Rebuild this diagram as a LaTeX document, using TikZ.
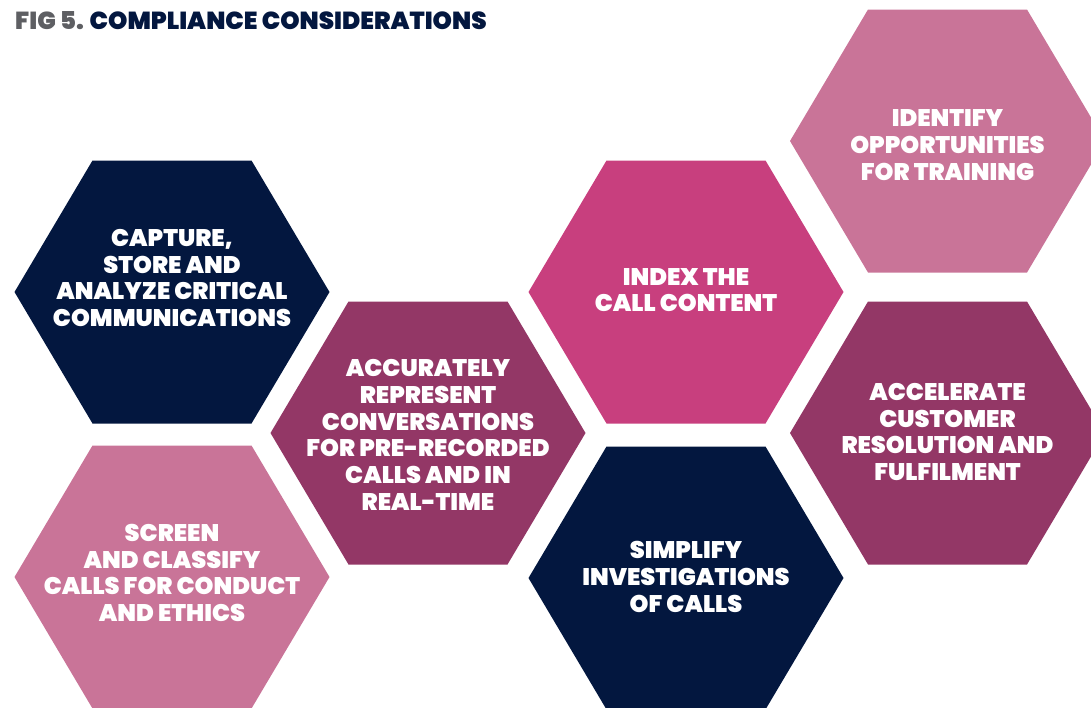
\documentclass[tikz,border=0pt]{standalone}
\usepackage{fontspec}
\setmainfont{Poppins}[BoldFont={Poppins Black}]
\usetikzlibrary{positioning}
\definecolor{navy}{HTML}{03173F}
\definecolor{rosepink}{HTML}{C97498}
\definecolor{plum}{HTML}{933766}
\definecolor{magenta}{HTML}{C83F7E}
\definecolor{titlegrey}{HTML}{5E5F63}
\tikzset{
  hexlabel/.style={text=white, align=center, inner sep=0pt,
    font=\bfseries\fontsize{24}{26.7}\selectfont},
}

\begin{document}
\begin{tikzpicture}[x=1pt,y=-1pt]
            \useasboundingbox (0,0) rectangle (1091,707);
            \clip (0,0) rectangle (1091,707);
            \foreach \cx/\cy/\col in {172/292/navy, 172/577/rosepink, 428/433/plum, 686/292/magenta, 686/578/navy, 947.5/141/rosepink, 947.5/433/plum}
                \fill[\col, shift={(\cx,\cy)}] (-157.5,0) --(-79.5,-131.5) --(79.5,-131.5) --(157.5,0) --(79.5,131.5) --(-79.5,131.5) --cycle;
            \node[anchor=west, text=navy, inner sep=0pt, font=\bfseries\fontsize{24.6}{26}\selectfont] (title) at (15,21) {\textcolor{titlegrey}{FIG 5.} COMPLIANCE CONSIDERATIONS};
            \node[hexlabel] (capture) at (172,278) {CAPTURE,\\STORE AND\\ANALYZE CRITICAL\\COMMUNICATIONS};
            \node[hexlabel] (screen) at (172,573) {SCREEN\\AND CLASSIFY\\CALLS FOR CONDUCT\\AND ETHICS};
            \node[hexlabel] (represent) at (428,435) {ACCURATELY\\REPRESENT\\CONVERSATIONS\\FOR PRE-RECORDED\\CALLS AND IN\\REAL-TIME};
            \node[hexlabel] (index) at (686,290) {INDEX THE\\CALL CONTENT};
            \node[hexlabel] (simplify) at (686,577) {SIMPLIFY\\INVESTIGATIONS\\OF CALLS};
            \node[hexlabel] (training) at (947.5,145) {IDENTIFY\\OPPORTUNITIES\\FOR TRAINING};
            \node[hexlabel] (accelerate) at (947.5,432) {ACCELERATE\\CUSTOMER\\RESOLUTION AND\\FULFILMENT};
        \end{tikzpicture}
\end{document}
